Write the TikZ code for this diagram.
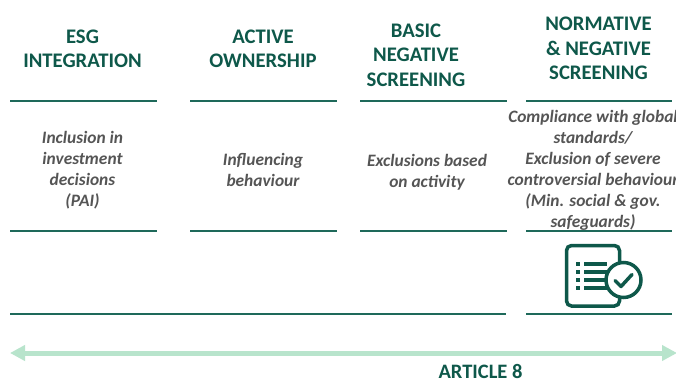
\documentclass[tikz,border=0pt]{standalone}
\usepackage{fontspec}
\setmainfont{Carlito}
\usetikzlibrary{arrows.meta}
\definecolor{dkgreen}{RGB}{14,88,74}
\definecolor{rulegreen}{RGB}{30,105,90}
\definecolor{bodygray}{RGB}{85,85,85}
\definecolor{mint}{RGB}{184,228,204}
\tikzset{
  title/.style={font=\fontsize{20.7}{24.5}\selectfont\bfseries, text=dkgreen, align=center, inner sep=0pt},
  body/.style={font=\fontsize{17.4}{21}\selectfont\bfseries\itshape, text=bodygray, align=center, inner sep=0pt},
  rule/.style={draw=rulegreen, line width=1.3pt},
  band/.style={draw=mint, line width=5pt, {Triangle[width=15pt,length=15pt]}-{Triangle[width=15pt,length=15pt]}},
  icon/.style={draw=dkgreen, line width=3.5pt},
  arttitle/.style={font=\fontsize{20.5}{24}\selectfont\bfseries, text=dkgreen, inner sep=0pt, anchor=base}
}
\begin{document}
\begin{tikzpicture}[x=1pt,y=-1pt]
\useasboundingbox (0,0) rectangle (676,381);
\clip (0,0) rectangle (676,381);
\fill[white] (0,0) rectangle (676,381);
% titles
\node[title] (t1) at (82.5,49) {ESG\\INTEGRATION};
\node[title] (t2) at (263,49) {ACTIVE\\OWNERSHIP};
\node[title] (t3) at (416,55) {BASIC\\NEGATIVE\\SCREENING};
\node[title] (t4) at (598.5,48.5) {NORMATIVE\\\& NEGATIVE\\SCREENING};
% rules
\foreach \a/\b/\n in {10/157/1,190/337/2,360/507/3,526/672/4}{
  \coordinate (ta\n) at (\a,101); \coordinate (tb\n) at (\b,101);
  \coordinate (ma\n) at (\a,231); \coordinate (mb\n) at (\b,231);
  \draw[rule] (ta\n) -- (tb\n);
  \draw[rule] (ma\n) -- (mb\n);
}
\coordinate (ba1) at (10,314); \coordinate (bb1) at (506,314);
\coordinate (ba2) at (526,314); \coordinate (bb2) at (672,314);
\draw[rule] (ba1) -- (bb1);
\draw[rule] (ba2) -- (bb2);
% body
\node[body] (b1) at (82.5,170) {Inclusion in\\investment\\decisions\\(PAI)};
\node[body] (b2) at (263,170) {Influencing\\behaviour};
\node[body] (b3) at (427,172) {Exclusions based\\on activity};
\node[body] (b4) at (593,170.5) {Compliance with global\\standards/\\Exclusion of severe\\controversial behaviour\\(Min. social \& gov.\\safeguards)};
% icon
\draw[icon, rounded corners=5pt] (566.5,245.5) rectangle (619.5,306);
\foreach \yy in {264,272,280,288}{
  \fill[dkgreen] (576,\yy-1.6) rectangle (579.5,\yy+1.6);
  \fill[dkgreen] (584,\yy-1.6) rectangle (607,\yy+1.6);
}
\draw[icon, fill=white] (623.5,280) circle (17.5);
\draw[icon, line join=round, line cap=round] (615,280.5) -- (621,286.5) -- (632,274.5);
% arrow
\coordinate (al) at (10,353);
\coordinate (ar) at (677,353);
\draw[band] (al) -- (ar);
\node[arttitle] (art) at (480.5,378.5) {ARTICLE 8};
\end{tikzpicture}
\end{document}
